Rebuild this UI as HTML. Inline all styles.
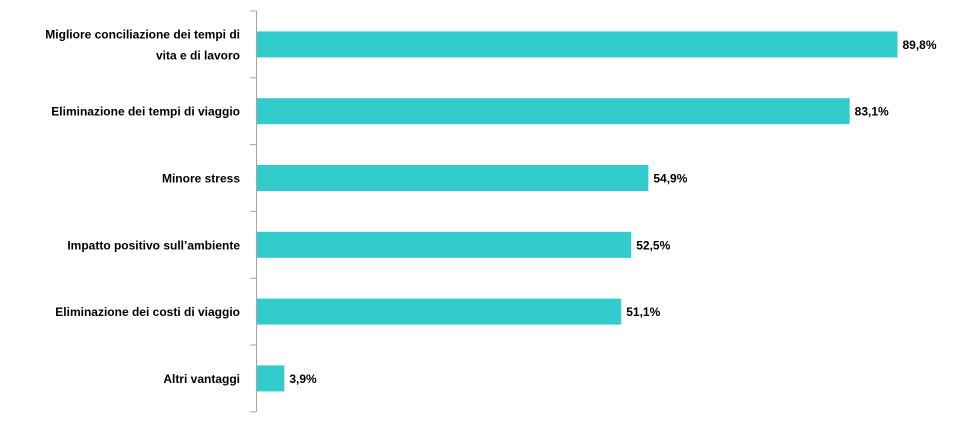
<!DOCTYPE html>
<html><head><meta charset="utf-8"><style>
html,body{margin:0;padding:0;background:#fff;}
svg text{font-family:"Liberation Sans",sans-serif;font-weight:bold;font-size:12px;fill:#000;}
</style></head><body>
<svg width="964" height="423" xmlns="http://www.w3.org/2000/svg">
<g id="plot"></g>
</svg>
<script>
const categories = [["Migliore conciliazione dei tempi di","vita e di lavoro"],["Eliminazione dei tempi di viaggio"],["Minore stress"],["Impatto positivo sull’ambiente"],["Eliminazione dei costi di viaggio"],["Altri vantaggi"]];
const values = [89.8, 83.1, 54.9, 52.5, 51.1, 3.9];
const valueLabels = ["89,8%","83,1%","54,9%","52,5%","51,1%","3,9%"];
const x0 = 256.5, pxPer = 7.138, plotTop = 11, band = 66.8, barH = 26;
const xs = v => x0 + v * pxPer;
const yc = i => plotTop + band * i + band / 2;
const NS = "http://www.w3.org/2000/svg";
const g = document.getElementById("plot");
function mk(tag, attrs){const e=document.createElementNS(NS,tag);for(const k in attrs)e.setAttribute(k,attrs[k]);g.appendChild(e);return e;}
values.forEach((v,i)=>{
  const r = mk("rect",{x:x0,y:yc(i)-barH/2,width:xs(v)-x0,height:barH,fill:"#33CCCC"});
  
  
  const t = mk("text",{x:xs(v)+5,y:yc(i)+4.5});
  t.textContent = valueLabels[i];
  
  
  const lines = categories[i];
  const lab = mk("text",{"text-anchor":"end"});
  
  
  lines.forEach((ln,j)=>{
    const ts=document.createElementNS(NS,"tspan");
    ts.setAttribute("x",240);
    ts.setAttribute("y",yc(i)+4.5+(j-(lines.length-1)/2)*21);
    ts.textContent=ln;lab.appendChild(ts);
  });
});
for(let i=0;i<=values.length;i++){
  const tk = mk("line",{x1:250,x2:x0,y1:plotTop+band*i,y2:plotTop+band*i,stroke:"#a6a6a6","stroke-width":1});
  
  
}
const ax = mk("line",{x1:x0,x2:x0,y1:plotTop,y2:plotTop+band*values.length,stroke:"#a6a6a6","stroke-width":1});


</script>
</body></html>
